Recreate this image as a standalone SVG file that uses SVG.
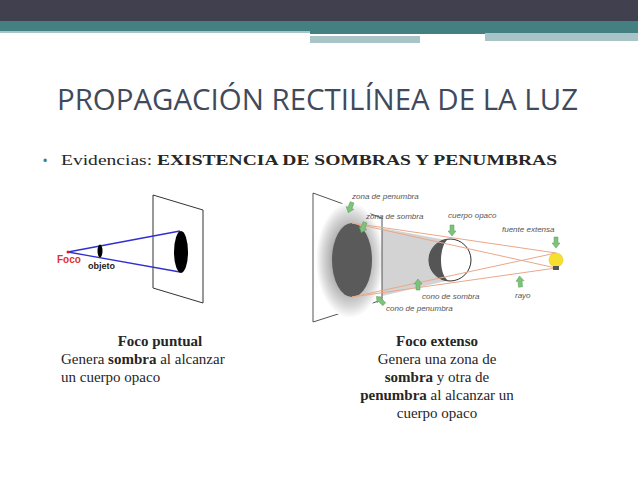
<svg xmlns="http://www.w3.org/2000/svg" width="638" height="479" viewBox="0 0 638 479">
<style>
.s{font-family:"Liberation Serif",serif;font-size:15px;fill:#262626}
.l{font-family:"Liberation Sans",Arial,sans-serif;font-size:8px;font-style:italic;fill:#555}
.ray{stroke:#e8a88a;stroke-width:1;fill:none}
.ga{fill:#7cc47c;stroke:#5a9a5a;stroke-width:0.5}
</style>
<defs>
<radialGradient id="pen" cx="0.5" cy="0.5" r="0.5">
<stop offset="0.5" stop-color="#a8a8a8"/><stop offset="0.8" stop-color="#d8d8d8"/><stop offset="1" stop-color="#fff"/>
</radialGradient>
<polygon id="arr" class="ga" points="-2,-6 2,-6 2,0 4,0 0,5 -4,0 -2,0"/>
</defs>
<rect width="638" height="479" fill="#fff"/>
<g id="header">
<rect x="0" y="0" width="638" height="21" fill="#41404f"/>
<rect x="0" y="21" width="638" height="10" fill="#447f82"/>
<rect x="0" y="31" width="310" height="2" fill="#a8c4c6"/>
<rect x="310" y="31" width="328" height="3" fill="#447f82"/>
<rect x="310" y="34" width="175" height="2" fill="#fff"/>
<rect x="310" y="36" width="110" height="7" fill="#a8c4c6"/>
<rect x="485" y="33" width="153" height="8" fill="#a8c4c6"/>
</g>
<text id="title" x="57" y="110" font-family="'Open Sans','Liberation Sans',sans-serif" font-size="30" fill="#3f4a5c" textLength="521" lengthAdjust="spacingAndGlyphs">PROPAGACIÓN RECTILÍNEA DE LA LUZ</text>
<text x="43" y="165" font-family="'Liberation Sans',sans-serif" font-size="12" fill="#447f82">•</text>
<text class="s" x="61" y="165" font-size="16" textLength="496" lengthAdjust="spacingAndGlyphs">Evidencias: <tspan font-weight="bold">EXISTENCIA DE SOMBRAS Y PENUMBRAS</tspan></text>
<g id="left-diagram">
<polygon points="153,195 203,210 203,303 153,288" fill="#fff" stroke="#333" stroke-width="1"/>
<line x1="68" y1="252" x2="180" y2="231" stroke="#3030d0" stroke-width="1.3"/>
<line x1="68" y1="252" x2="180" y2="272" stroke="#3030d0" stroke-width="1.3"/>
<ellipse cx="181" cy="252" rx="7" ry="21" fill="#000"/>
<ellipse cx="100" cy="251" rx="2.5" ry="6.5" fill="#000"/>
<circle cx="68" cy="252" r="1.5" fill="#e02020"/>
<text x="57" y="263" font-family="'Liberation Sans',sans-serif" font-weight="bold" font-size="10" fill="#e03030">Foco</text>
<text x="88" y="269" font-family="'Liberation Sans',sans-serif" font-weight="bold" font-size="9" fill="#222">objeto</text>
</g>
<g id="right-diagram">
<polyline points="382,218 313,193 313,322 382,300" fill="none" stroke="#555" stroke-width="1"/>
<ellipse cx="350" cy="260" rx="34" ry="58" fill="url(#pen)"/>
<ellipse cx="352" cy="260" rx="20" ry="37" fill="#5a5a5a"/>
<polygon points="382,228 446,240 446,281 382,296" fill="#c8c8c8" opacity="0.8"/>
<line x1="382" y1="218" x2="382" y2="300" stroke="#555"/>
<circle cx="450" cy="260" r="21" fill="#fff" stroke="#333"/>
<path d="M450,239 A21,21 0 0 0 450,281 A9,21 0 0 1 450,239 Z" fill="#555"/>
<line class="ray" x1="352" y1="223" x2="556" y2="268"/>
<line class="ray" x1="352" y1="297" x2="556" y2="253"/>
<line class="ray" x1="352" y1="223" x2="556" y2="253"/>
<line class="ray" x1="352" y1="297" x2="556" y2="268"/>
<circle cx="556" cy="260" r="7" fill="#f5e030" stroke="#d8c020" stroke-width="0.5"/>
<rect x="553" y="266" width="6" height="4" fill="#555"/>
<text class="l" x="352" y="199">zona de penumbra</text>
<text class="l" x="366" y="219">zona de sombra</text>
<text class="l" x="448" y="218">cuerpo opaco</text>
<text class="l" x="502" y="232">fuente extensa</text>
<text class="l" x="422" y="299">cono de sombra</text>
<text class="l" x="386" y="311">cono de penumbra</text>
<text class="l" x="515" y="298">rayo</text>
<use href="#arr" transform="translate(350,208) rotate(20)"/>
<use href="#arr" transform="translate(363,228) rotate(20)"/>
<use href="#arr" transform="translate(452,231)"/>
<use href="#arr" transform="translate(556,243)"/>
<use href="#arr" transform="translate(418,284) rotate(180)"/>
<use href="#arr" transform="translate(520,281) rotate(175)"/>
<use href="#arr" transform="translate(380,300) rotate(135)"/>
</g>
<g id="captions">
<text class="s" x="160" y="346" text-anchor="middle" font-weight="bold">Foco puntual</text>
<text class="s" x="61" y="364">Genera <tspan font-weight="bold">sombra</tspan> al alcanzar</text>
<text class="s" x="61" y="382">un cuerpo opaco</text>
<text class="s" x="437" y="346" text-anchor="middle" font-weight="bold">Foco extenso</text>
<text class="s" x="437" y="364" text-anchor="middle">Genera una zona de</text>
<text class="s" x="437" y="382" text-anchor="middle"><tspan font-weight="bold">sombra</tspan>  y otra de</text>
<text class="s" x="437" y="400" text-anchor="middle"><tspan font-weight="bold">penumbra</tspan> al alcanzar un</text>
<text class="s" x="437" y="418" text-anchor="middle">cuerpo opaco</text>
</g>
</svg>
